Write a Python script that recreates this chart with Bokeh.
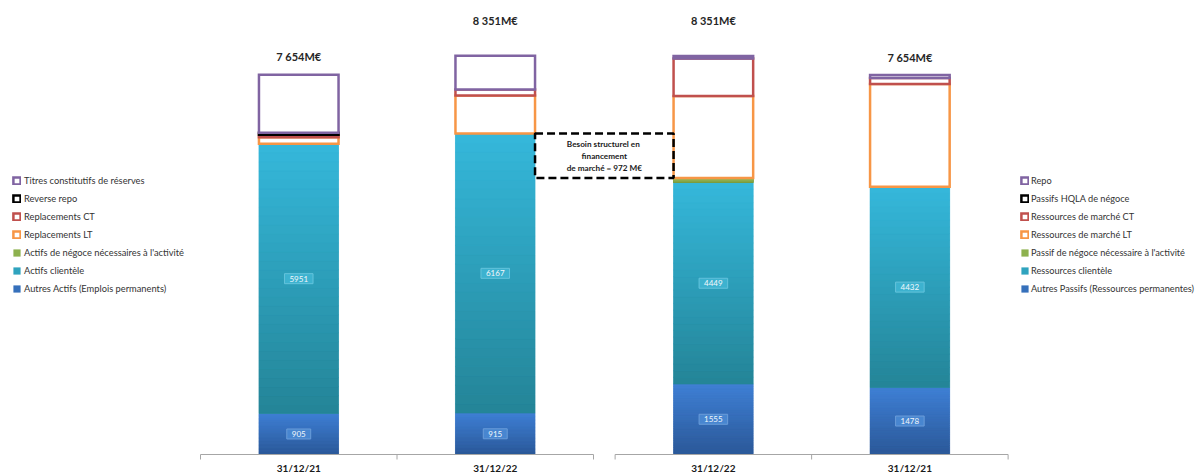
import numpy as np
from bokeh.plotting import figure
from bokeh.models import Range1d, ColumnDataSource, Legend, LegendItem
from bokeh.core.properties import value
from bokeh.embed import file_html
from bokeh.resources import INLINE

# ---------------- data (M€) ----------------
emplois_dates = ["31/12/21", "31/12/22"]
ressources_dates = ["31/12/22", "31/12/21"]

autres_actifs = [905, 915]
actifs_clientele = [5951, 6167]
actifs_negoce = [0, 0]
replacements_lt = [145, 839]
replacements_ct = [55, 132]
reverse_repo = [45, 0]
titres_reserves = [1280, 750]

autres_passifs = [1555, 1478]
ressources_clientele = [4449, 4432]
passif_negoce = [100, 0]
ressources_lt = [1810, 2267]
ressources_ct = [823, 132]
passifs_hqla = [0, 0]
repo = [60, 66]

emplois_total_labels = ["7 654M€", "8 351M€"]
ressources_total_labels = ["8 351M€", "7 654M€"]
besoin_label = "Besoin structurel  en\nfinancement\nde marché = 972 M€"

# ---------------- layout constants ----------------
W, H = 1201, 472
M_PER_PX = 22.07          # M€ per pixel
BASE_PX = 454             # baseline, px from top
X0_PX = 200               # left edge of first chart
SLOT_PX = 196.5           # category slot width in px
GAP = 0.11                # gap between the two charts (slots)
BAR_W = 0.405             # bar width (slots)
LIFT_PX = [18, 35, 35, 18]
FONT = "Lato"
N_GRAD = 30

STYLE = {
    "blue":   dict(kind="grad", top="#3f80d5", bottom="#2b5898", base="#3670bb",
                   lfill="#4886d0", lline="#6a9cd9"),
    "cyan":   dict(kind="grad", top="#35b8db", bottom="#248497", base="#2fa3be",
                   lfill="#3db2cf", lline="#64c3dc"),
    "green":  dict(kind="grad", top="#9fc05c", bottom="#7b9b3f", base="#8db14e"),
    "orange": dict(kind="outline", color="#f79646"),
    "red":    dict(kind="outline", color="#c0504d"),
    "black":  dict(kind="outline", color="#000000"),
    "purple": dict(kind="outline", color="#8064a2"),
}

emplois_series = [
    ("Autres Actifs (Emplois permanents)", autres_actifs, "blue"),
    ("Actifs clientèle", actifs_clientele, "cyan"),
    ("Actifs de négoce nécessaires à l'activité", actifs_negoce, "green"),
    ("Replacements LT", replacements_lt, "orange"),
    ("Replacements CT", replacements_ct, "red"),
    ("Reverse repo", reverse_repo, "black"),
    ("Titres constitutifs de réserves", titres_reserves, "purple"),
]
ressources_series = [
    ("Autres Passifs (Ressources permanentes)", autres_passifs, "blue"),
    ("Ressources clientèle", ressources_clientele, "cyan"),
    ("Passif de négoce nécessaire à l'activité", passif_negoce, "green"),
    ("Ressources de marché LT", ressources_lt, "orange"),
    ("Ressources de marché CT", ressources_ct, "red"),
    ("Passifs HQLA de négoce", passifs_hqla, "black"),
    ("Repo", repo, "purple"),
]

x_start = -X0_PX / SLOT_PX
x_end = (W - X0_PX) / SLOT_PX
y_start = -(H - BASE_PX) * M_PER_PX
y_end = BASE_PX * M_PER_PX

p = figure(width=W, height=H, x_range=Range1d(x_start, x_end), y_range=Range1d(y_start, y_end),
           output_backend="svg", toolbar_location=None, min_border=0,
           x_axis_location=None, y_axis_location=None)
p.grid.visible = False
p.outline_line_color = None
p.background_fill_color = "white"
p.border_fill_color = "white"


def hex2rgb(h):
    h = h.lstrip("#")
    return np.array([int(h[i:i + 2], 16) for i in (0, 2, 4)], dtype=float)


def rgb2hex(c):
    return "#%02x%02x%02x" % tuple(int(round(v)) for v in c)


def draw_chart(series, offset):
    n = len(series[0][1])
    xs = np.arange(n) + 0.5 + offset
    cum = np.zeros(n)
    renderers = {}
    stacks = {}
    for name, vals, key in series:
        vals = np.array(vals, dtype=float)
        bottom = cum.copy()
        top = cum + vals
        cum = top
        stacks[name] = (bottom, top)
        st = STYLE[key]
        mask = vals > 0
        if mask.any():
            src = ColumnDataSource(dict(x=xs[mask], bottom=bottom[mask], top=top[mask]))
        else:
            # nothing to draw, keep a row of NaN so the legend still shows the swatch
            src = ColumnDataSource(dict(x=[np.nan], bottom=[np.nan], top=[np.nan]))
        if st["kind"] == "grad":
            r = p.vbar(x="x", bottom="bottom", top="top", width=BAR_W, source=src,
                       fill_color=st["base"], line_color=None)
            gx, gb, gt, gc = [], [], [], []
            ctop, cbot = hex2rgb(st["top"]), hex2rgb(st["bottom"])
            for i in np.where(mask)[0]:
                edges = np.linspace(bottom[i], top[i], N_GRAD + 1)
                for k in range(N_GRAD):
                    f = (k + 0.5) / N_GRAD
                    gx.append(xs[i]); gb.append(edges[k]); gt.append(edges[k + 1])
                    gc.append(rgb2hex(cbot + (ctop - cbot) * f))
            if gx:
                gsrc = ColumnDataSource(dict(x=gx, bottom=gb, top=gt, c=gc))
                p.vbar(x="x", bottom="bottom", top="top", width=BAR_W, source=gsrc,
                       fill_color="c", line_color="c", line_width=0.6)
        else:
            r = p.vbar(x="x", bottom="bottom", top="top", width=BAR_W, source=src,
                       fill_color="white", line_color=st["color"], line_width=2.5,
                       line_join="miter")
        renderers[name] = r
    return xs, cum, renderers, stacks


xs_e, tot_e, rend_e, stk_e = draw_chart(emplois_series, 0.0)
xs_r, tot_r, rend_r, stk_r = draw_chart(ressources_series, 2 + GAP)

# value labels inside the two bottom segments
for series, xs, stk in ((emplois_series, xs_e, stk_e), (ressources_series, xs_r, stk_r)):
    for name, vals, key in series[:2]:
        b, t = stk[name]
        st = STYLE[key]
        src = ColumnDataSource(dict(x=xs, y=(b + t) / 2, t=[str(v) for v in vals]))
        p.text(x="x", y="y", text="t", source=src, text_align="center", text_baseline="middle",
               text_font=value(FONT), text_font_size="8px", text_color="#f2f7fb",
               background_fill_color=st["lfill"], border_line_color=st["lline"],
               border_line_width=1, padding=[5, 2])

# total labels
all_x = np.concatenate([xs_e, xs_r])
all_tot = np.concatenate([tot_e, tot_r])
src_tot = ColumnDataSource(dict(x=all_x, y=all_tot, t=emplois_total_labels + ressources_total_labels,
                                yo=[-v for v in LIFT_PX]))
p.text(x="x", y="y", text="t", y_offset="yo", source=src_tot, text_align="center",
       text_baseline="middle", text_font=value(FONT), text_font_style="bold",
       text_font_size="11px", text_color="#262626")

# axes lines, separators and category labels
axis_color = "#a6a6a6"
for offset, dates in ((0.0, emplois_dates), (2 + GAP, ressources_dates)):
    n = len(dates)
    p.segment(x0=[offset], y0=[0], x1=[offset + n], y1=[0], line_color=axis_color, line_width=1)
    ticks = offset + np.arange(n + 1)
    p.segment(x0=ticks, y0=np.zeros(n + 1), x1=ticks, y1=np.full(n + 1, -5 * M_PER_PX),
              line_color=axis_color, line_width=1)
    p.text(x=offset + np.arange(n) + 0.5, y=np.zeros(n), text=dates, y_offset=13,
           text_align="center", text_baseline="middle", text_font=value(FONT),
           text_font_style="bold", text_font_size="10px", text_color="#1a1a1a")

# dashed "besoin structurel" box: between client tops of the two 31/12/22 bars
neg_e = stk_e["Actifs de négoce nécessaires à l'activité"][1][1]
neg_r = stk_r["Passif de négoce nécessaire à l'activité"][1][0]
bx0 = xs_e[1] + BAR_W / 2
bx1 = xs_r[0] - BAR_W / 2
p.quad(left=[bx0], right=[bx1], top=[neg_e], bottom=[neg_r], fill_color=None,
       line_color="black", line_width=2.5, line_dash="8 4")
p.text(x=[(bx0 + bx1) / 2], y=[(neg_e + neg_r) / 2], text=[besoin_label], text_align="center",
       text_baseline="middle", text_font=value(FONT), text_font_style="bold",
       text_font_size="8.2px", text_color="#1a1a1a", text_line_height=1.2)


# legends
def make_legend(series, rend, loc, size, spacing, standoff):
    items = [LegendItem(label=name, renderers=[rend[name]]) for name, _, _ in reversed(series)]
    leg = Legend(items=items, location=loc, orientation="vertical",
                 border_line_color=None, background_fill_alpha=0, padding=0, margin=0,
                 spacing=spacing, glyph_width=9, glyph_height=9, label_height=9,
                 label_standoff=standoff,
                 label_text_font=FONT, label_text_font_size=size, label_text_color="#333333")
    p.add_layout(leg)


make_legend(emplois_series, rend_e, (12, 178), "9.3px", 7, 3)
make_legend(ressources_series, rend_r, (1020, 178), "9.2px", 7, 2)

open("out.html", "w").write(file_html(p, INLINE))
